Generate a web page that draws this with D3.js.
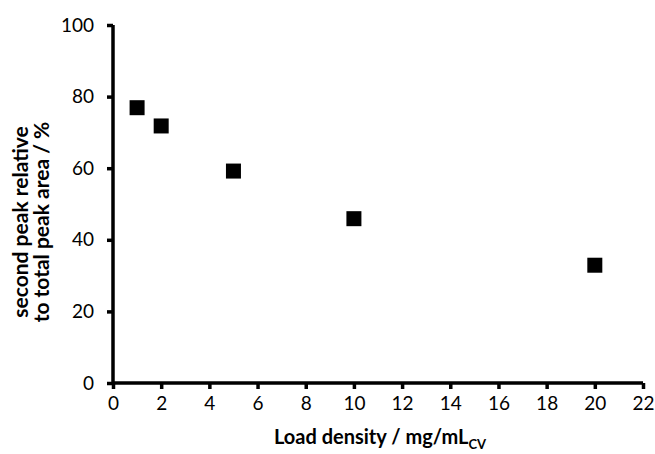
<!DOCTYPE html>
<html>
<head>
<meta charset="utf-8">
<script src="https://cdn.jsdelivr.net/npm/d3@7"></script>
<style>
  body { margin: 0; background: #fff; }
  text { font-family: Lato, "Open Sans", sans-serif; fill: #000; }
</style>
</head>
<body>
<script>
const loadDensity = [1, 2, 5, 10, 20];
const secondPeakPct = [76.9, 71.8, 59.2, 45.9, 32.9];
const xTicks = [0, 2, 4, 6, 8, 10, 12, 14, 16, 18, 20, 22];
const yTicks = [0, 20, 40, 60, 80, 100];

const width = 655, height = 454;
const margin = { top: 25, right: 12, bottom: 71, left: 113 };

const svg = d3.select('body')
  .append('svg')
  .attr('width', width)
  .attr('height', height);

const x = d3.scaleLinear().domain([0, 22]).range([margin.left, 643]);
const y = d3.scaleLinear().domain([0, 100]).range([383, margin.top]);

// axes
const xAxis = svg.append('g')
  .attr('transform', `translate(0,${y(0)})`)
  .call(d3.axisBottom(x).tickValues(xTicks).tickSize(6).tickPadding(8));

const yAxis = svg.append('g')
  .attr('transform', `translate(${x(0)},0)`)
  .call(d3.axisLeft(y).tickValues(yTicks).tickSize(6).tickPadding(13));

[xAxis, yAxis].forEach(a => {
  a.select('.domain').attr('stroke', '#000').attr('stroke-width', 3.5);
  a.selectAll('.tick line').attr('stroke', '#000').attr('stroke-width', 3.5);
  a.selectAll('.tick text')
    .style('font-family', 'Lato, "Open Sans", sans-serif')
    .style('font-size', '19px')
    .attr('fill', '#000');
});
// keep the outer ends flush, no outer tick stubs
xAxis.select('.domain').attr('d', `M${x(0)},0H${x(22)}`);
yAxis.select('.domain').attr('d', `M0,${y(0)}V${y(100)}`);

// points
svg.append('g')
  .selectAll('rect')
  .data(loadDensity)
  .join('rect')
  .attr('x', (d, i) => x(d) - 7.5)
  .attr('y', (d, i) => y(secondPeakPct[i]) - 7.5)
  .attr('width', 15)
  .attr('height', 15)
  .attr('fill', '#000');

// x title
const xt = svg.append('text')
  .attr('x', (x(0) + x(22)) / 2 + 2)
  .attr('y', 444)
  .attr('text-anchor', 'middle')
  .style('font-weight', 'bold')
  .style('font-size', '20px');
xt.append('tspan').text('Load density / mg/mL');
xt.append('tspan').attr('dy', 5).style('font-size', '13px').text('CV');

// y title
const yt = svg.append('text')
  .attr('transform', `translate(28,${(y(0) + y(100)) / 2 + 18}) rotate(-90)`)
  .attr('text-anchor', 'middle')
  .style('font-weight', 'bold')
  .style('font-size', '21px');
yt.append('tspan').attr('x', 0).attr('y', 0).text('second peak relative');
yt.append('tspan').attr('x', 0).attr('y', 21).text('to total peak area / %');
</script>
</body>
</html>
